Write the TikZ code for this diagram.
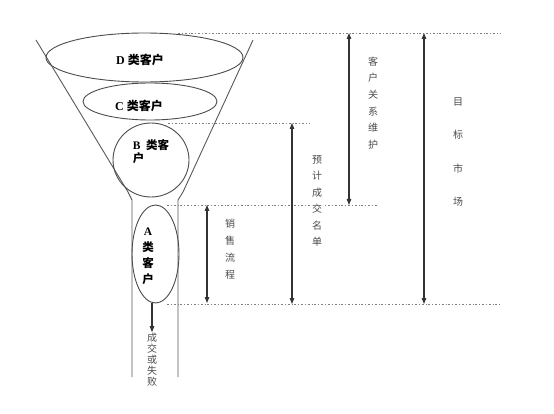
\documentclass[tikz,border=0pt]{standalone}
\usepackage{fontspec}
\setmainfont{Liberation Serif}
\newfontfamily\cjk{Noto Sans CJK SC}
\usetikzlibrary{arrows.meta,shapes.geometric}

\tikzset{
  rim/.style={draw=black!70, line width=0.9pt, ellipse, inner sep=0pt},
  guide/.style={black!50, line width=0.6pt, dash pattern=on 2pt off 2pt on 0.7pt off 2pt},
  span/.style={{Triangle[length=6pt,width=4.5pt]}-{Triangle[length=6pt,width=4.5pt]}, line width=1.1pt, black!80},
  tag/.style={text=black!70, font=\cjk\fontsize{10}{#1}\selectfont, align=center, fill=white, inner sep=1pt},
  cls/.style={font=\bfseries\fontsize{12}{12}\selectfont, inner sep=0pt}
}

\begin{document}
\begin{tikzpicture}[x=1pt,y=-1pt]
    \useasboundingbox (0,0) rectangle (554,414);

    % funnel
    \draw[black!65, line width=0.9pt](36,40)--(128,192)--(132,200)--(132,377);
    \draw[black!65, line width=0.9pt](253,40)--(183,192)--(178,200)--(178,377);

    % guide lines
    \coordinate (topL) at (178,33);  \coordinate (topR) at (500,33);
    \coordinate (bL) at (168,123);   \coordinate (bR) at (310,123);
    \coordinate (aL) at (167,205);   \coordinate (aR) at (378,205);
    \coordinate (botL) at (167,304); \coordinate (botR) at (500,304);
    \draw[guide](topL)--(topR);
    \draw[guide](bL)--(bR);
    \draw[guide](aL)--(aR);
    \draw[guide](botL)--(botR);

    % customer classes
    \node[rim, minimum width=197pt, minimum height=49pt](clsD) at (144.5,57.5){};
    \node[rim, minimum width=134pt, minimum height=37pt](clsC) at (150,101.5){};
    \node[rim, minimum width=76pt, minimum height=74pt](clsB) at (151,160){};
    \node[rim, minimum width=47pt, minimum height=98pt](clsA) at (155.5,254){};

    \node[cls](lblD) at (140,60){D {\cjk 类客户}};
    \node[cls](lblC) at (139,106){C {\cjk 类客户}};
    \node[cls, align=left, font=\bfseries\fontsize{11.5}{13}\selectfont](lblB) at (151,152){B\ \ {\cjk 类客}\\{\cjk 户}};
    \node[cls, align=center, font=\bfseries\fontsize{11.5}{16}\selectfont](lblA) at (148,256){A\\{\cjk 类}\\{\cjk 客}\\{\cjk 户}};

    \node[tag=11, fill=none](result) at (152,360){成\\交\\或\\失\\败};
    \draw[-{Triangle[length=6pt,width=4.5pt]}, line width=1.1pt, black!80](clsA.south -| result.north)--(result.north);

    % spans
    \coordinate (s1) at (207,205); \coordinate (s2) at (207,303);
    \coordinate (p1) at (292,123); \coordinate (p2) at (292,304);
    \coordinate (k1) at (349,33);  \coordinate (k2) at (349,205);
    \coordinate (m1) at (424,33);  \coordinate (m2) at (424,304);
    \draw[span](s1)--(s2);
    \draw[span](p1)--(p2);
    \draw[span](k1)--(k2);
    \draw[span](m1)--(m2);

    \node[tag=17](sales) at (230,249){销\\售\\流\\程};
    \node[tag=16.5](plan) at (317,201){预\\计\\成\\交\\名\\单};
    \node[tag=16.7](care) at (373,103){客\\户\\关\\系\\维\\护};
    \node[tag=33.3](market) at (458,152){目\\标\\市\\场};
\end{tikzpicture}
\end{document}
